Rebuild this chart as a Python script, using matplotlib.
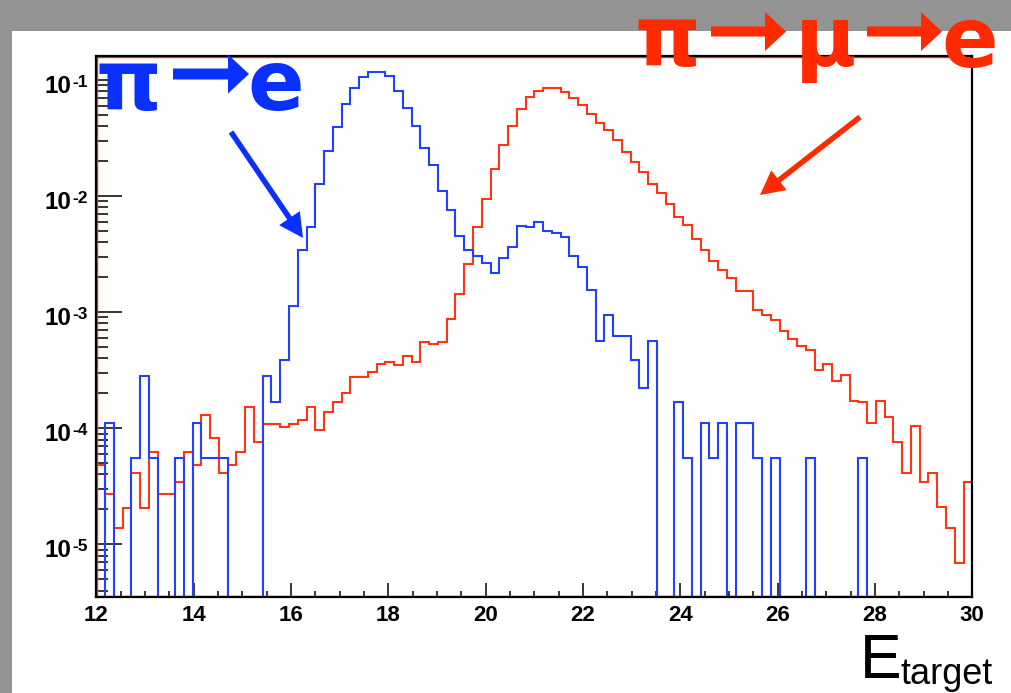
import numpy as np
import matplotlib
matplotlib.use("Agg")
import matplotlib.pyplot as plt
from matplotlib import font_manager
from matplotlib.patches import FancyArrow, Rectangle
from matplotlib.transforms import IdentityTransform, Affine2D
from matplotlib.ticker import FixedLocator, MultipleLocator, LogLocator, NullFormatter

# ---- binning -------------------------------------------------------------
x_lo, x_hi, n_bins = 12.0, 30.0, 100
y_lo, y_hi = 3.52e-6, 0.161

# ---- pi -> mu -> e  (red) -------------------------------------------------
pi_mu_e = [
    4.8e-5, 2.7e-5, 1.38e-5, 2.06e-5, 4.1e-5, 2.06e-5, 6.2e-5, 2.7e-5, 2.7e-5, 3.44e-5,
    6.2e-5, 4.8e-5, 1.30e-4, 8.3e-5, 4.1e-5, 4.8e-5, 6.2e-5, 1.51e-4, 7.6e-5, 1.08e-4,
    1.08e-4, 1.03e-4, 1.08e-4, 1.17e-4, 1.51e-4, 9.6e-5, 1.37e-4, 1.67e-4, 2.01e-4, 2.74e-4,
    2.74e-4, 3.08e-4, 3.58e-4, 3.75e-4, 3.53e-4, 4.17e-4, 3.73e-4, 5.49e-4, 5.27e-4, 5.49e-4,
    8.65e-4, 1.44e-3, 2.60e-3, 5.38e-3, 9.46e-3, 1.70e-2, 2.77e-2, 4.05e-2, 5.62e-2, 7.21e-2,
    8.09e-2, 8.50e-2, 8.50e-2, 7.93e-2, 7.00e-2, 6.10e-2, 5.14e-2, 4.30e-2, 3.72e-2, 3.03e-2,
    2.38e-2, 1.95e-2, 1.62e-2, 1.26e-2, 1.06e-2, 8.6e-3, 6.67e-3, 5.65e-3, 4.26e-3, 3.42e-3,
    2.78e-3, 2.33e-3, 1.96e-3, 1.52e-3, 1.52e-3, 1.05e-3, 9.38e-4, 8.58e-4, 6.94e-4, 5.88e-4,
    5.13e-4, 4.75e-4, 3.17e-4, 3.56e-4, 2.54e-4, 2.86e-4, 1.73e-4, 1.67e-4, 1.10e-4, 1.73e-4,
    1.25e-4, 7.6e-5, 4.13e-5, 1.04e-4, 3.46e-5, 4.13e-5, 2.08e-5, 1.38e-5, 6.9e-6, 3.46e-5,
]

# ---- pi -> e  (blue) ------------------------------------------------------
pi_e = [
    0, 1.12e-4, 0, 0, 5.6e-5, 2.8e-4, 5.6e-5, 0, 0, 5.6e-5,
    0, 1.12e-4, 5.6e-5, 5.6e-5, 5.6e-5, 0, 0, 0, 0, 2.8e-4,
    1.68e-4, 3.9e-4, 1.12e-3, 3.40e-3, 5.46e-3, 1.27e-2, 2.43e-2, 3.96e-2, 6.19e-2, 8.61e-2,
    0.1066, 0.1166, 0.1166, 0.109, 8.04e-2, 5.74e-2, 3.99e-2, 2.62e-2, 1.85e-2, 1.11e-2,
    7.6e-3, 4.54e-3, 3.40e-3, 3.05e-3, 2.65e-3, 2.17e-3, 2.94e-3, 3.66e-3, 5.53e-3, 5.46e-3,
    5.93e-3, 4.99e-3, 4.79e-3, 4.47e-3, 3.05e-3, 2.46e-3, 1.55e-3, 5.60e-4, 9.5e-4, 6.18e-4,
    6.18e-4, 3.90e-4, 2.22e-4, 5.60e-4, 0, 0, 1.68e-4, 5.6e-5, 0, 1.12e-4,
    5.6e-5, 1.12e-4, 0, 1.12e-4, 1.12e-4, 5.6e-5, 0, 5.6e-5, 0, 0,
    0, 5.6e-5, 0, 0, 0, 0, 0, 5.6e-5, 0, 0,
    0, 0, 0, 0, 0, 0, 0, 0, 0, 0,
]

x_ticks = [12, 14, 16, 18, 20, 22, 24, 26, 28, 30]
x_tick_labels = [str(v) for v in x_ticks]
y_ticks = [1e-5, 1e-4, 1e-3, 1e-2, 1e-1]
y_tick_exponents = ["-5", "-4", "-3", "-2", "-1"]

RED = "#ff3515"
BLUE = "#2240ff"
RED_TXT = "#ff2a00"
BLUE_TXT = "#0a30ff"
GREY = "#939393"


def pick(names):
    for n in names:
        try:
            font_manager.findfont(font_manager.FontProperties(family=n),
                                  fallback_to_default=False)
            return n
        except Exception:
            continue
    return "DejaVu Sans"


sans = pick(["Liberation Sans", "Arial", "DejaVu Sans"])
plt.rcParams["font.family"] = [sans, "DejaVu Sans"]

W, H, DPI = 1012, 693, 100
fig = plt.figure(figsize=(W / DPI, H / DPI), dpi=DPI, facecolor="white")

# grey canvas border (top and left)
fig.patches.append(Rectangle((0, 1 - 31 / H), 1, 31 / H, transform=fig.transFigure,
                             facecolor=GREY, edgecolor="none", zorder=0))
fig.patches.append(Rectangle((0, 0), 12 / W, 1, transform=fig.transFigure,
                             facecolor=GREY, edgecolor="none", zorder=0))

ax_l, ax_r, ax_t, ax_b = 96.3, 972.3, 56.0, 597.0
ax = fig.add_axes([ax_l / W, 1 - ax_b / H, (ax_r - ax_l) / W, (ax_b - ax_t) / H])
ax.set_facecolor("white")
ax.set_yscale("log")
ax.set_xlim(x_lo, x_hi)
ax.set_ylim(y_lo, y_hi)

edges = np.linspace(x_lo, x_hi, n_bins + 1)
red_vals = np.asarray(pi_mu_e, dtype=float)
blue_vals = np.asarray(pi_e, dtype=float)
# empty bins sit on the lower edge of the log axis
red_draw = np.where(red_vals > 0, red_vals, y_lo)
blue_draw = np.where(blue_vals > 0, blue_vals, y_lo)

ax.stairs(red_draw, edges, baseline=None, color=RED, lw=1.5, zorder=3)
ax.stairs(blue_draw, edges, baseline=None, color=BLUE, lw=1.5, zorder=4)

# thin red inner frame drawn by the histogram pad
off = 1.2
for (xs, ys, dx, dy) in [([0, 1], [1, 1], 0, -off), ([0, 0], [0, 1], off, 0),
                         ([0, 1], [0, 0], 0, off)]:
    ax.plot(xs, ys, color=RED, lw=1.0, zorder=2, clip_on=False,
            transform=ax.transAxes + Affine2D().translate(dx, dy))

for s in ax.spines.values():
    s.set_color("black")
    s.set_linewidth(1.6)
    s.set_zorder(5)

ax.xaxis.set_major_locator(FixedLocator(x_ticks))
ax.set_xticklabels(x_tick_labels, fontweight="bold")
ax.xaxis.set_minor_locator(MultipleLocator(0.5))
ax.yaxis.set_major_locator(FixedLocator(y_ticks))
ax.set_yticklabels([""] * len(y_ticks))
ax.yaxis.set_minor_locator(LogLocator(base=10, subs=np.arange(2, 10)))
ax.yaxis.set_minor_formatter(NullFormatter())

ax.tick_params(axis="x", which="major", direction="in", length=10, width=1.1,
               labelsize=16, pad=6, top=False, color="black")
ax.tick_params(axis="x", which="minor", direction="in", length=4.5, width=1.1, top=False)
ax.tick_params(axis="y", which="major", direction="in", length=18.7, width=1.1,
               right=False)
ax.tick_params(axis="y", which="minor", direction="in", length=8.6, width=1.1, right=False)

# y labels: "10" with a raised exponent
ytr = ax.get_yaxis_transform()
for val, ex in zip(y_ticks, y_tick_exponents):
    ax.annotate("10", xy=(0, val), xycoords=ytr, xytext=(-17.6, -9.3),
                textcoords="offset points", ha="right", va="baseline",
                fontsize=17.5, fontweight="bold", annotation_clip=False)
    ax.annotate(ex, xy=(0, val), xycoords=ytr, xytext=(-17.4, -5.0),
                textcoords="offset points", ha="left", va="baseline",
                fontsize=12.5, fontweight="bold", annotation_clip=False)


# ---- decay-channel annotations -------------------------------------------
def fx(px):
    return px / W


def fy(py):
    return 1 - py / H


big = 60
for (px, py, s, c) in [(128.5, 110, "π", BLUE_TXT), (276, 110, "e", BLUE_TXT),
                       (667.5, 66, "π", RED_TXT), (826, 66, "μ", RED_TXT),
                       (970, 67, "e", RED_TXT)]:
    fig.text(fx(px), fy(py), s, color=c, ha="center", va="baseline", zorder=10,
             family="DejaVu Sans", fontweight="bold", fontsize=big)

ident = IdentityTransform()


def arrow(x0, y0, x1, y1, width, head_w, head_l, color):
    fig.add_artist(FancyArrow(x0, H - y0, x1 - x0, -(y1 - y0), width=width,
                              head_width=head_w, head_length=head_l,
                              length_includes_head=True, transform=ident,
                              color=color, lw=0, zorder=10))


arrow(173, 74, 249, 74, 11, 39, 21, BLUE_TXT)
arrow(711, 31.5, 786, 31.5, 10, 39, 21, RED_TXT)
arrow(867, 31.5, 942, 31.5, 10, 39, 21, RED_TXT)
arrow(231, 132, 303, 238, 5.5, 25, 24, BLUE_TXT)
arrow(860, 117, 760, 195, 5.5, 25, 24, RED_TXT)

# ---- axis title ----------------------------------------------------------
fig.text(fx(860), fy(678), "E", color="black", ha="left", va="baseline",
         family=sans, fontsize=45)
fig.text(fx(901), fy(684), "target", color="black", ha="left", va="baseline",
         family=sans, fontsize=26)

fig.savefig("out.png", dpi=DPI, facecolor=fig.get_facecolor())
